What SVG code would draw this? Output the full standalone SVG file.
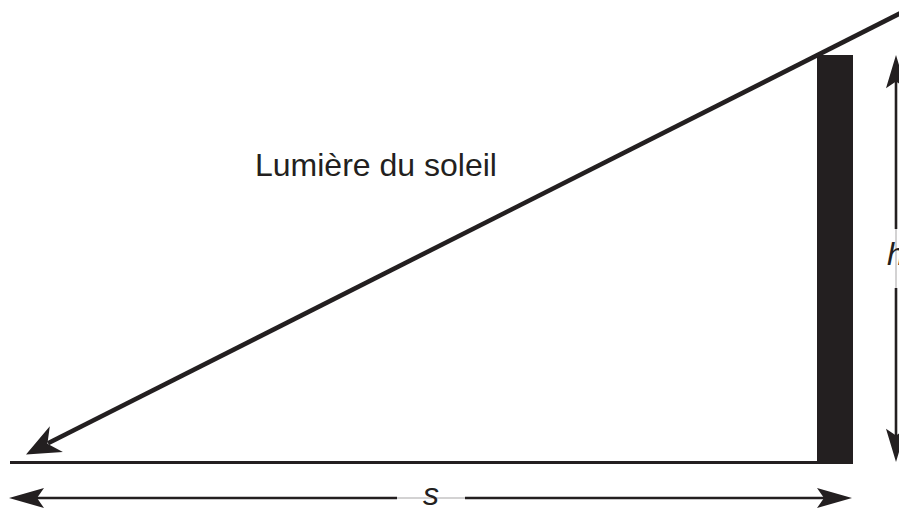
<svg xmlns="http://www.w3.org/2000/svg" width="899" height="512" viewBox="0 0 899 512">
  <style>
    .ink { fill: #231f20; }
    .thick { stroke: #231f20; fill: none; }
    .thin { stroke: #a7a5a6; stroke-width: 1; fill: none; }
    .lbl { font-family: "Liberation Sans", Arial, sans-serif; fill: #231f20; }
  </style>
  <defs>
    <path id="headS" d="M0,0 L-35,-10 L-28,0 L-35,10 Z"/>
    <path id="headL" d="M0,0 L-34,-14.5 L-24,0 L-34,14.5 Z"/>
  </defs>
  <rect width="899" height="512" fill="#ffffff"/>

  <g id="pole">
    <rect class="ink" x="817" y="55" width="36" height="409"/>
  </g>

  <g id="ground">
    <line class="thick" x1="10" y1="462.5" x2="818" y2="462.5" stroke-width="3"/>
  </g>

  <g id="label-sun">
    <text class="lbl" x="255" y="176" font-size="32">Lumière du soleil</text>
  </g>

  <g id="connectors">
    <g id="sunlight">
      <line class="thick" x1="910" y1="8.4" x2="48" y2="443.3" stroke-width="4.6"/>
      <use href="#headL" class="ink" transform="translate(26,454.5) rotate(153.2)"/>
    </g>
    <g id="dim-s">
      <line class="thick" x1="30" y1="498" x2="397" y2="498" stroke-width="2.6"/>
      <line class="thin" x1="397" y1="498" x2="465" y2="498"/>
      <line class="thick" x1="465" y1="498" x2="832" y2="498" stroke-width="2.6"/>
      <use href="#headS" class="ink" transform="translate(9,498) rotate(180)"/>
      <use href="#headS" class="ink" transform="translate(852,498)"/>
    </g>
    <g id="dim-h">
      <line class="thick" x1="896" y1="78" x2="896" y2="229" stroke-width="2.6"/>
      <line class="thin" x1="896" y1="229" x2="896" y2="288"/>
      <line class="thick" x1="896" y1="288" x2="896" y2="440" stroke-width="2.6"/>
      <use href="#headS" class="ink" transform="translate(896,55) rotate(-90) scale(0.95,1)"/>
      <use href="#headS" class="ink" transform="translate(896,462) rotate(90) scale(0.95,1)"/>
    </g>
  </g>

  <g id="label-s">
    <text class="lbl" x="431" y="505" font-size="32" font-style="italic" text-anchor="middle">s</text>
  </g>
  <g id="label-h">
    <text class="lbl" x="887" y="265" font-size="32" font-style="italic">h</text>
  </g>
</svg>
